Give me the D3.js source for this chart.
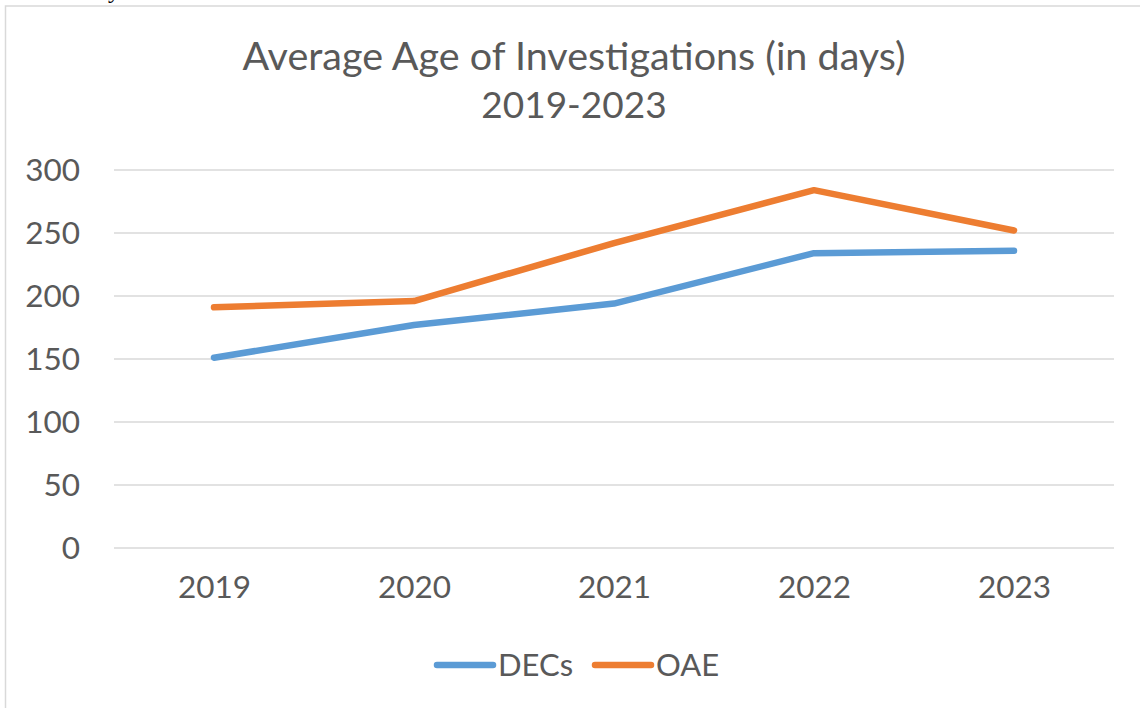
<!DOCTYPE html>
<html lang="en">
<head>
  <meta charset="UTF-8">
  <script src="https://d3js.org/d3.v7.min.js"></script>
  <style>
    body { margin: 0; background: white; }
    svg { display: block; font-family: Lato, "Open Sans", sans-serif; }
    .tick text { fill: #595959; }
  </style>
</head>
<body>
  <div id="chart"></div>
  <script>
    // data
    const years = ["2019", "2020", "2021", "2022", "2023"];
    const decs = [151, 177, 194, 234, 236];
    const oae = [191, 196, 242, 284, 252];
    const yTicks = [0, 50, 100, 150, 200, 250, 300];
    const seriesNames = ["DECs", "OAE"];
    const seriesColors = ["#5B9BD5", "#ED7D31"];

    const width = 1140, height = 708;
    const plot = { left: 114, right: 1114, top: 170, bottom: 548 };

    const svg = d3.select("#chart")
      .append("svg")
      .attr("width", width)
      .attr("height", height);

    // chart area border
    svg.append("rect")
      .attr("x", 5.5)
      .attr("y", 6)
      .attr("width", 1200)
      .attr("height", 800)
      .attr("fill", "white")
      .attr("stroke", "#D9D9D9")
      .attr("stroke-width", 1.5);

    // bit of text cut off above the chart
    svg.append("text")
      .attr("x", 108)
      .attr("y", -2)
      .style("font-family", "'Liberation Serif', serif")
      .style("font-size", "24px")
      .attr("fill", "black")
      .text("y");

    const x = d3.scalePoint().domain(years).range([plot.left + 100, plot.right - 100]);
    const y = d3.scaleLinear().domain([0, 300]).range([plot.bottom, plot.top]);

    // title
    const title = svg.append("text")
      .attr("text-anchor", "middle")
      .attr("fill", "#595959")
      .style("font-size", "39.5px");
    title.append("tspan").attr("x", 574).attr("y", 70).text("Average Age of Investigations (in days)");
    title.append("tspan").attr("x", 574).attr("y", 118).style("font-size", "37px").text("2019-2023");

    // gridlines
    svg.append("g")
      .selectAll("line")
      .data(yTicks)
      .join("line")
      .attr("x1", plot.left)
      .attr("x2", plot.right)
      .attr("y1", d => y(d))
      .attr("y2", d => y(d))
      .attr("stroke", "#D9D9D9")
      .attr("stroke-width", 1.5);

    // y axis labels
    const yAxis = svg.append("g")
      .attr("transform", "translate(80,0)")
      .call(d3.axisLeft(y).tickValues(yTicks).tickSize(0).tickPadding(0));
    yAxis.select(".domain").remove();
    yAxis.selectAll("text").style("font-size", "31.5px").style("font-family", "Lato, sans-serif");

    // x axis labels
    const xAxis = svg.append("g")
      .attr("transform", `translate(0,${plot.bottom})`)
      .call(d3.axisBottom(x).tickSize(0).tickPadding(28));
    xAxis.select(".domain").remove();
    xAxis.selectAll("text").style("font-size", "31.5px").style("font-family", "Lato, sans-serif");

    // lines
    const line = d3.line().x((d, i) => x(years[i])).y(d => y(d));
    [decs, oae].forEach((vals, k) => {
      svg.append("path")
        .datum(vals)
        .attr("d", line)
        .attr("fill", "none")
        .attr("stroke", seriesColors[k])
        .attr("stroke-width", 6.5)
        .attr("stroke-linecap", "round")
        .attr("stroke-linejoin", "round");
    });

    // legend
    const legendX = [437, 595];
    const legend = svg.append("g");
    seriesNames.forEach((name, k) => {
      legend.append("line")
        .attr("x1", legendX[k])
        .attr("x2", legendX[k] + 56)
        .attr("y1", 665)
        .attr("y2", 665)
        .attr("stroke", seriesColors[k])
        .attr("stroke-width", 6.5)
        .attr("stroke-linecap", "round");
      legend.append("text")
        .attr("x", legendX[k] + 61)
        .attr("y", 676)
        .attr("fill", "#595959")
        .style("font-size", "31px")
        .text(name);
    });
  </script>
</body>
</html>
